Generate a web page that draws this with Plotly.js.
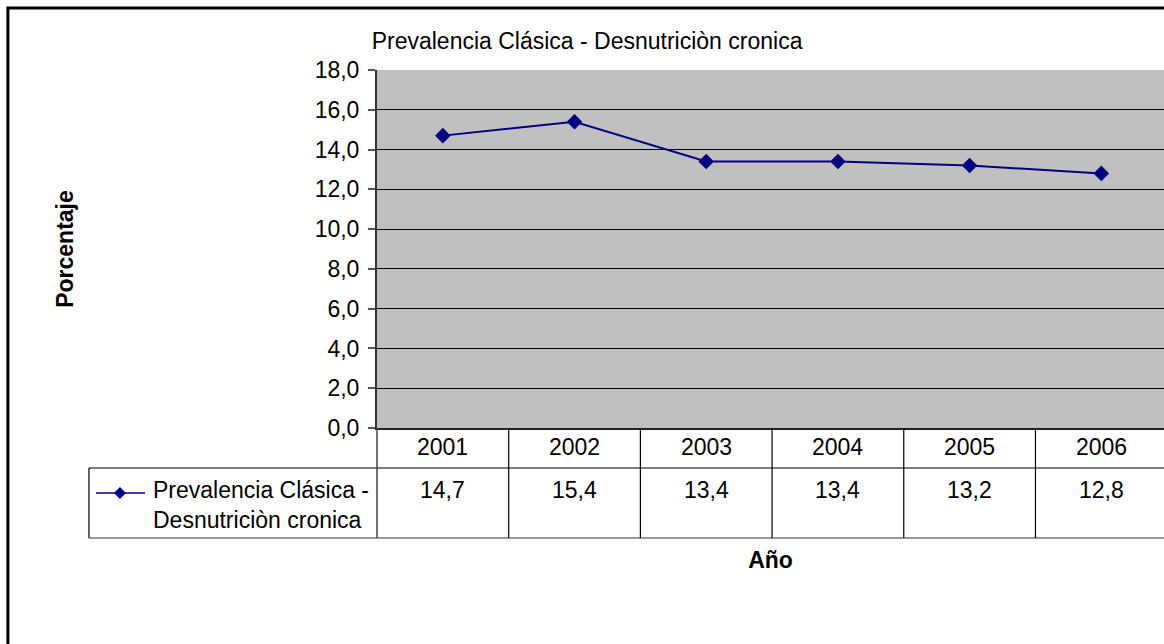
<!DOCTYPE html>
<html>
<head>
<meta charset="utf-8">
<script src="https://cdn.plot.ly/plotly-3.0.1.min.js"></script>
<style>html,body{margin:0;padding:0;background:#fff}#chart{width:1164px;height:644px}</style>
</head>
<body>
<div id="chart"></div>
<script>
const years = [2001, 2002, 2003, 2004, 2005, 2006];
const values = [14.7, 15.4, 13.4, 13.4, 13.2, 12.8];
const seriesName = "Prevalencia Clásica - Desnutriciòn cronica";
const legendLines = ["Prevalencia Clásica -", "Desnutriciòn cronica"];
const chartTitle = "Prevalencia Clásica - Desnutriciòn cronica";
const yTitle = "Porcentaje";
const xTitle = "Año";

const FONT = "Arial, 'Liberation Sans', sans-serif";
const FS = 23;
const navy = "#000080";

// paper-y positions of the data table rows under the plot
const rowTop = -0.1117, rowBottom = -0.3073;

const fmt = v => v.toFixed(1).replace('.', ',');

const shapes = [];
const annotations = [];

// outer frame
shapes.push({type:'rect', xref:'paper', yref:'paper', x0:-0.469, x1:1.05, y0:-1, y1:1.173,
  line:{color:'#000', width:3}, fillcolor:'rgba(0,0,0,0)', layer:'above'});

// table horizontal lines
shapes.push({type:'line', xref:'paper', yref:'paper', x0:-0.366, x1:1.05, y0:rowTop, y1:rowTop, line:{color:'#000', width:1.2}});
shapes.push({type:'line', xref:'paper', yref:'paper', x0:-0.366, x1:1.05, y0:rowBottom, y1:rowBottom, line:{color:'#333', width:1.2}});
// table vertical lines
shapes.push({type:'line', xref:'paper', yref:'paper', x0:-0.366, x1:-0.366, y0:rowTop, y1:rowBottom, line:{color:'#000', width:1.2}});
shapes.push({type:'line', xref:'paper', yref:'paper', x0:0, x1:0, y0:0, y1:rowBottom, line:{color:'#444', width:1.5}});
years.slice(0, -1).forEach(y => {
  shapes.push({type:'line', xref:'x', yref:'paper', x0:y + 0.5, x1:y + 0.5, y0:0, y1:rowBottom, line:{color:'#000', width:1.2}});
});

// legend key in table: line + diamond
const kx = -0.3266, ky = -0.1815, dx = 0.0076, dy = 0.0168;
shapes.push({type:'line', xref:'paper', yref:'paper', x0:-0.357, x1:-0.2948, y0:ky, y1:ky, line:{color:navy, width:1.5}});
shapes.push({type:'path', xref:'paper', yref:'paper',
  path:`M${kx - dx},${ky} L${kx},${ky + dy} L${kx + dx},${ky} L${kx},${ky - dy} Z`,
  fillcolor:navy, line:{color:navy, width:0}});

// table text
years.forEach((y, i) => {
  annotations.push({xref:'x', yref:'paper', x:y, y:-0.053, text:String(y), showarrow:false,
    font:{family:FONT, size:FS, color:'#000'}, xanchor:'center', yanchor:'middle'});
  annotations.push({xref:'x', yref:'paper', x:y, y:-0.1732, text:fmt(values[i]), showarrow:false,
    font:{family:FONT, size:FS, color:'#000'}, xanchor:'center', yanchor:'middle'});
});
annotations.push({xref:'paper', yref:'paper', x:-0.2872, y:-0.214, text:legendLines.join('<br>'), showarrow:false,
  align:'left', xanchor:'left', yanchor:'middle', font:{family:FONT, size:FS, color:'#000'}});

const traces = [
  {x: years, y: values, type:'scatter', mode:'lines+markers', name: seriesName,
   line:{color:navy, width:2}, marker:{symbol:'diamond', size:12, color:navy}, cliponaxis:false}
];

const layout = {
  width:1164, height:644,
  margin:{l:377, r:0, t:70, b:216},
  paper_bgcolor:'#fff', plot_bgcolor:'#C0C0C0',
  separators:',.',
  showlegend:false,
  font:{family:FONT, size:FS, color:'#000'},
  title:{text:chartTitle, xref:'container', x:0.3193, xanchor:'left', yref:'container', y:0.936, yanchor:'middle',
    font:{family:FONT, size:FS, color:'#000'}},
  xaxis:{range:[years[0]-0.5, years[0]-0.5+5.976], showticklabels:false, ticks:'', showgrid:false, zeroline:false,
    showline:true, linecolor:'#222', linewidth:2, fixedrange:true,
    title:{text:xTitle, font:{family:FONT, size:FS, color:'#000', weight:'bold'}, standoff:123}},
  yaxis:{range:[0,18], dtick:2, tickformat:'.1f', ticks:'outside', ticklen:7, tickwidth:2, tickcolor:'#555',
    showgrid:true, gridcolor:'#000', gridwidth:1, zeroline:false, showline:true, linecolor:'#333', linewidth:2,
    tickfont:{family:FONT, size:FS, color:'#000'}, ticklabelstandoff:4, fixedrange:true,
    title:{text:yTitle, font:{family:FONT, size:FS, color:'#000', weight:'bold'}, standoff:235}},
  shapes:shapes,
  annotations:annotations
};

Plotly.newPlot('chart', traces, layout, {displayModeBar:false, staticPlot:true});
</script>
</body>
</html>
